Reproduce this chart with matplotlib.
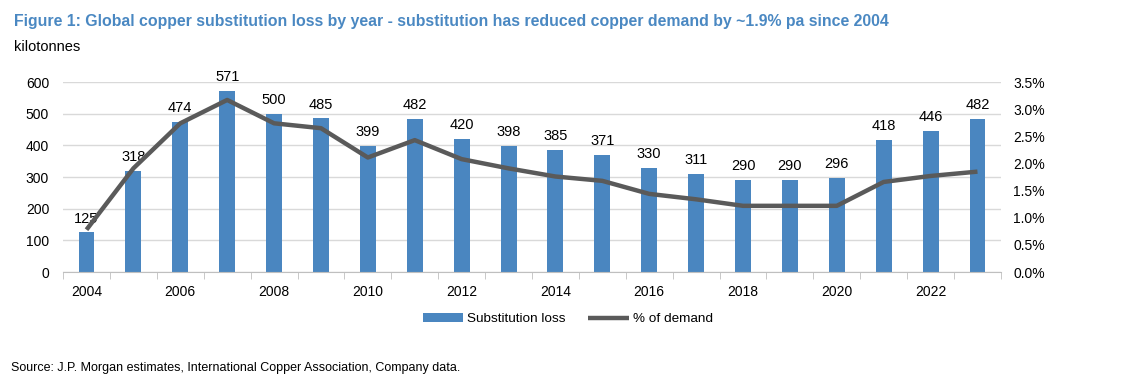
import numpy as np
import matplotlib
matplotlib.use("Agg")
import matplotlib.pyplot as plt
from matplotlib.ticker import FuncFormatter, FixedLocator

plt.rcParams['font.family'] = ['Liberation Sans', 'DejaVu Sans']

# data
years = list(range(2004, 2024))
substitution_loss = [125, 318, 474, 571, 500, 485, 399, 482, 420, 398,
                     385, 371, 330, 311, 290, 290, 296, 418, 446, 482]
pct_of_demand = [0.78, 1.91, 2.74, 3.17, 2.74, 2.65, 2.11, 2.43, 2.08, 1.91,
                 1.76, 1.68, 1.44, 1.34, 1.22, 1.22, 1.22, 1.66, 1.77, 1.85]

bar_color = '#4a86c0'
line_color = '#5a5a5a'
title_color = '#4a88c2'

fig = plt.figure(figsize=(11.4, 3.87), dpi=100)
ax = fig.add_axes([0.0553, 0.297, 0.8227, 0.491])
x = np.arange(len(years))

bars = ax.bar(x, substitution_loss, width=0.34, color=bar_color, zorder=2,
              label='Substitution loss')
for xi, v in zip(x, substitution_loss):
    ax.annotate(f'{v}', (xi, v), xytext=(0, 5), textcoords='offset points',
                ha='center', va='bottom', fontsize=10.5)

ax.set_ylim(0, 600)
ax.set_xlim(-0.5, len(years) - 0.5)
ax.set_yticks(range(0, 601, 100))
ax.grid(axis='y', color='#d9d9d9', linewidth=1, zorder=0)
ax.set_axisbelow(True)

# year labels every other year, tick marks at category boundaries
ax.set_xticks(x[::2])
ax.set_xticklabels([str(y) for y in years[::2]])
ax.tick_params(axis='x', which='major', length=0, pad=9, labelsize=10)
ax.xaxis.set_minor_locator(FixedLocator(np.arange(-0.5, len(years), 1)))
ax.tick_params(axis='x', which='minor', length=5, color='#bfbfbf')
ax.tick_params(axis='y', length=0, labelsize=10, pad=10)

for s in ['top', 'right', 'left']:
    ax.spines[s].set_visible(False)
ax.spines['bottom'].set_color('#bfbfbf')

ax2 = ax.twinx()
line, = ax2.plot(x, pct_of_demand, color=line_color, linewidth=3.2,
                 solid_capstyle='butt', zorder=3, label='% of demand')
ax2.set_ylim(0, 3.5)
ax2.set_yticks(np.arange(0, 3.51, 0.5))
ax2.yaxis.set_major_formatter(FuncFormatter(lambda v, p: f'{v:.1f}%'))
ax2.tick_params(axis='y', length=0, labelsize=10, pad=9)
for s in ['top', 'right', 'left', 'bottom']:
    ax2.spines[s].set_visible(False)

fig.legend([bars, line], ['Substitution loss', '% of demand'],
           loc='center', bbox_to_anchor=(0.498, 0.175), ncol=2, frameon=False,
           fontsize=9.7, handlelength=3.0, columnspacing=1.7, handletextpad=0.3)

fig.text(0.012, 0.945, 'Figure 1: Global copper substitution loss by year - substitution has reduced copper demand by ~1.9% pa since 2004',
         color=title_color, fontsize=11.4, fontweight='bold', va='center')
fig.text(0.012, 0.878, 'kilotonnes', fontsize=10.5, va='center')
fig.text(0.01, 0.05, 'Source: J.P. Morgan estimates, International Copper Association, Company data.',
         fontsize=9, va='center')

fig.savefig('out.png', dpi=100)
